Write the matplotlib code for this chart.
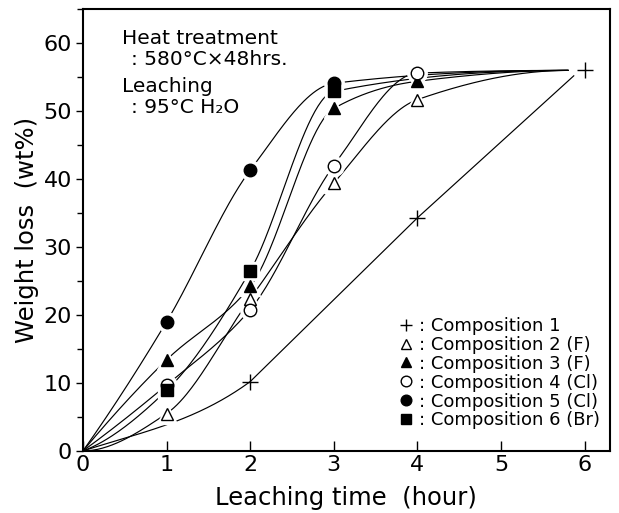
import numpy as np
import matplotlib
matplotlib.use("Agg")
import matplotlib.pyplot as plt
from matplotlib.ticker import MultipleLocator

# values (leaching time in hours, weight loss in wt%)
hours = [1, 2, 3, 4, 6]
comp1 = [None, 10.2, None, 34.3, 56.0]
comp2 = [5.5, 22.4, 39.4, 51.7, None]
comp3 = [13.4, 24.2, 50.4, 54.4, None]
comp4 = [9.7, 20.8, 42.0, 55.6, None]
comp5 = [19.0, 41.3, 54.1, None, None]
comp6 = [8.9, 26.5, 52.9, None, None]

labels = [": Composition 1", ": Composition 2 (F)", ": Composition 3 (F)",
          ": Composition 4 (Cl)", ": Composition 5 (Cl)", ": Composition 6 (Br)"]
markers = ["+", "^", "^", "o", "o", "s"]
filled = [True, False, True, False, True, True]

# where the hand-drawn curves start and run together at the end
start_pt = (0.0, 0.0)
plateau_pt = (5.8, 56.0)
comp1_end = (5.87, 55.2)


def smooth(xs, ys, m_first=None, m_last=None, n=300):
    # monotone cubic through the points, only to draw the curve
    xs = np.asarray(xs, float)
    ys = np.asarray(ys, float)
    h = np.diff(xs)
    d = np.diff(ys) / h
    m = np.zeros_like(xs)
    for k in range(1, len(xs) - 1):
        if d[k - 1] * d[k] > 0:
            w1 = 2 * h[k] + h[k - 1]
            w2 = h[k] + 2 * h[k - 1]
            m[k] = (w1 + w2) / (w1 / d[k - 1] + w2 / d[k])
    if len(xs) > 2:
        m[0] = ((2 * h[0] + h[1]) * d[0] - h[0] * d[1]) / (h[0] + h[1])
        if m[0] * d[0] <= 0:
            m[0] = 0
        m[-1] = ((2 * h[-1] + h[-2]) * d[-1] - h[-1] * d[-2]) / (h[-1] + h[-2])
        if m[-1] * d[-1] <= 0:
            m[-1] = 0
    else:
        m[:] = d[0]
    if m_first is not None:
        m[0] = m_first
    if m_last is not None:
        m[-1] = m_last
    xx = np.linspace(xs[0], xs[-1], n)
    idx = np.clip(np.searchsorted(xs, xx) - 1, 0, len(xs) - 2)
    t = (xx - xs[idx]) / h[idx]
    h00 = 2 * t**3 - 3 * t**2 + 1
    h10 = t**3 - 2 * t**2 + t
    h01 = -2 * t**3 + 3 * t**2
    h11 = t**3 - t**2
    yy = h00 * ys[idx] + h10 * h[idx] * m[idx] + h01 * ys[idx + 1] + h11 * h[idx] * m[idx + 1]
    return xx, yy


fig = plt.figure(figsize=(6.19, 5.13), dpi=100)
ax = fig.add_axes([0.134, 0.121, 0.851, 0.861])

series = [comp1, comp2, comp3, comp4, comp5, comp6]
for i, s in enumerate(series):
    px = [h for h, v in zip(hours, s) if v is not None]
    py = [v for v in s if v is not None]
    if i == 0:
        # bends up to the 2 h point, then runs almost straight
        xx, yy = smooth([start_pt[0], px[0]], [start_pt[1], py[0]],
                        m_first=4.0, m_last=9.0)
        xx = np.concatenate([xx, px[1:-1], [comp1_end[0]]])
        yy = np.concatenate([yy, py[1:-1], [comp1_end[1]]])
    else:
        cx = [start_pt[0]] + px + [plateau_pt[0]]
        cy = [start_pt[1]] + py + [plateau_pt[1]]
        xx, yy = smooth(cx, cy)
    ax.plot(xx, yy, color="black", lw=0.85, zorder=2)

    ms = 11 if markers[i] == "+" else 9
    if markers[i] == "s":
        ms = 8
    if markers[i] != "+":
        ax.plot(px, py, ls="none", marker=markers[i], ms=ms + 5, color="white",
                zorder=3)
    ax.plot(px, py, ls="none", marker=markers[i], ms=ms,
            mfc="black" if filled[i] else "white", mec="black", mew=1.0,
            zorder=4, label=labels[i])

ax.set_xlim(0, 6.3)
ax.set_ylim(0, 65)
ax.xaxis.set_major_locator(MultipleLocator(1))
ax.yaxis.set_major_locator(MultipleLocator(10))
ax.yaxis.set_minor_locator(MultipleLocator(5))
ax.tick_params(axis="x", direction="in", length=7, width=1.0, labelsize=16, pad=3)
ax.tick_params(axis="y", which="major", direction="out", length=5, width=1.0,
               labelsize=16, pad=3)
ax.tick_params(axis="y", which="minor", direction="out", length=4, width=1.0)
for sp in ax.spines.values():
    sp.set_linewidth(1.5)

ax.set_xlabel("Leaching time  (hour)", fontsize=17.5, labelpad=8)
ax.set_ylabel("Weight loss  (wt%)", fontsize=17.5, labelpad=3)

note = dict(transform=ax.transAxes, fontsize=14.5, va="center")
ax.text(0.074, 0.934, "Heat treatment", **note)
ax.text(0.092, 0.887, ": 580°C×48hrs.", **note)
ax.text(0.074, 0.824, "Leaching", **note)
ax.text(0.092, 0.778, ": 95°C H₂O", **note)

leg = ax.legend(loc="lower right", bbox_to_anchor=(1.005, 0.02), frameon=False,
                fontsize=13, handlelength=0.6, handletextpad=0.4,
                labelspacing=0.05, borderpad=0.2, markerscale=0.85)

fig.savefig("out.png", dpi=100)
